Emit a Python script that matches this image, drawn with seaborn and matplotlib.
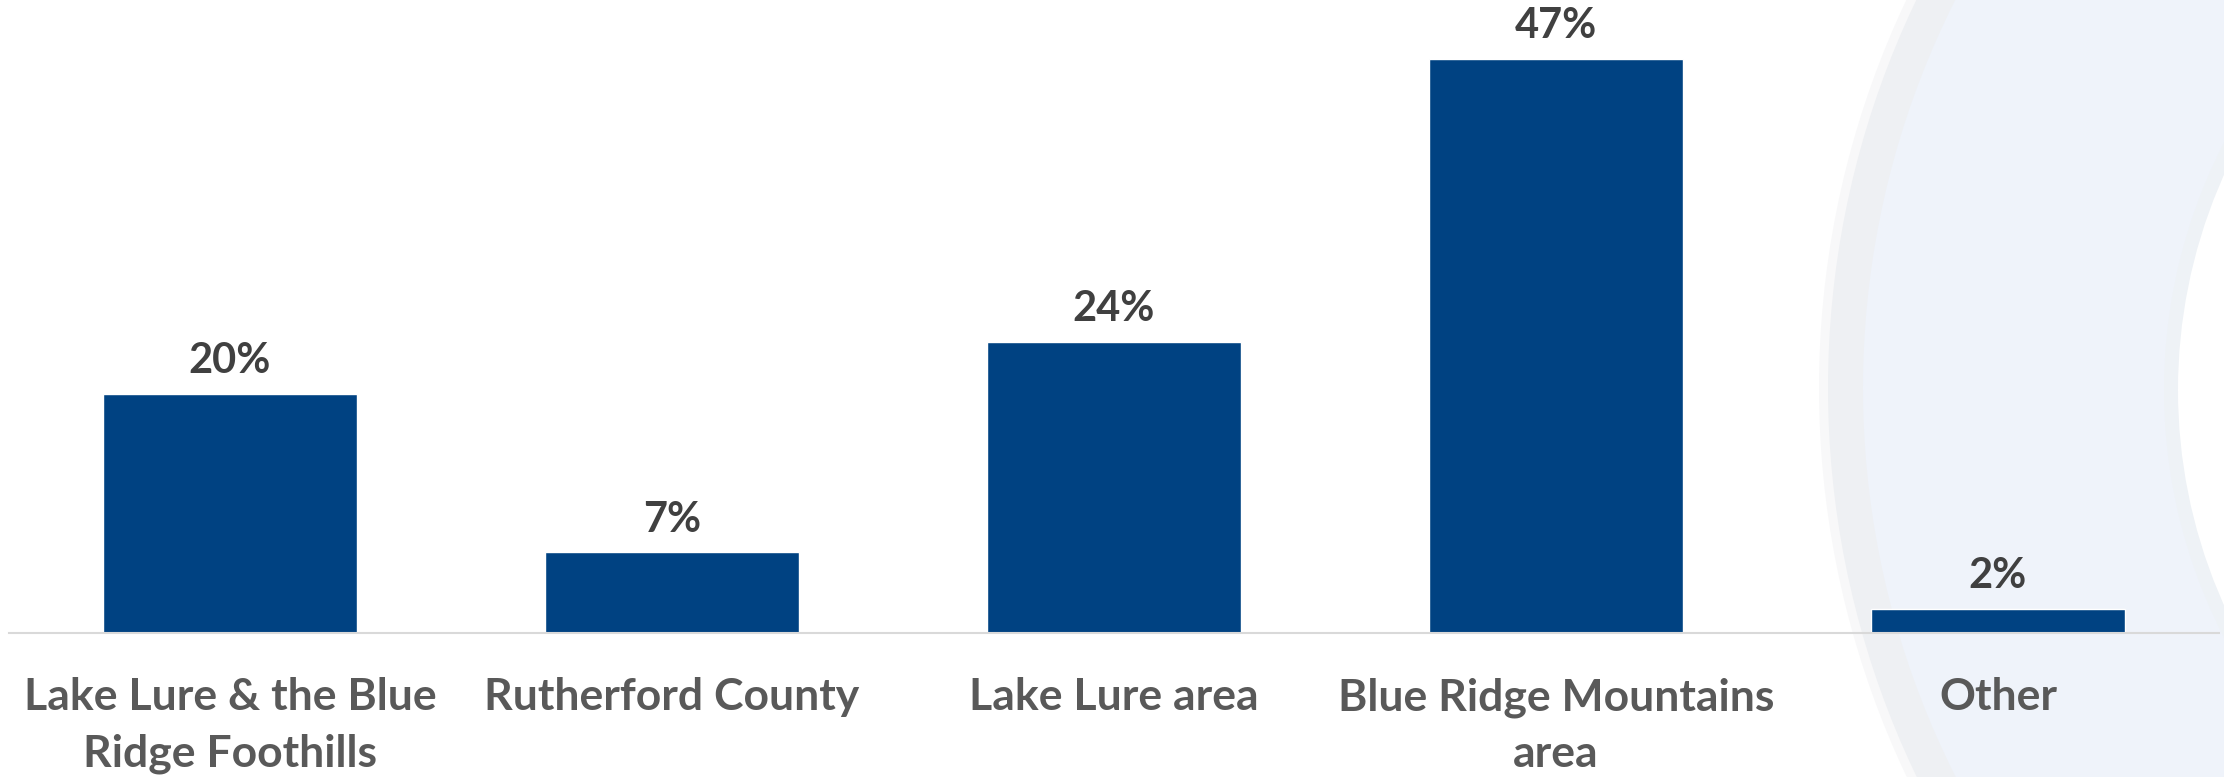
import matplotlib
matplotlib.use("Agg")
import matplotlib.pyplot as plt
import seaborn as sns
import pandas as pd
from matplotlib.patches import Circle

categories = ["Lake Lure & the Blue\nRidge Foothills", "Rutherford County",
              "Lake Lure area", "Blue Ridge Mountains\narea", "Other"]
values = [19.6, 6.6, 23.8, 47.0, 2.0]
value_labels = ["20%", "7%", "24%", "47%", "2%"]

BAR = "#004282"
VAL_TXT = "#404040"
CAT_TXT = "#595959"

sns.set_theme(style="white")
plt.rcParams["font.family"] = ["Lato", "DejaVu Sans"]

W, H = 2224, 777
fig = plt.figure(figsize=(W / 100, H / 100), dpi=100, facecolor="white")

# background decorative arcs (pixel coordinate axes)
bg = fig.add_axes([0, 0, 1, 1], zorder=-1)
bg.set_xlim(0, W)
bg.set_ylim(H, 0)
bg.axis("off")
for cx, cy, r, col in [
    (2725, 388, 906, "#F8F8F9"),
    (2725, 388, 897, "#EEF0F3"),
    (2725, 388, 862, "#EFF3FA"),
    (2704, 390, 540, "#EEF2F6"),
    (2704, 390, 526, "#FFFFFF"),
]:
    bg.add_patch(Circle((cx, cy), r, facecolor=col, edgecolor="none"))

ax = fig.add_axes([9 / W, (H - 633) / H, 2210 / W, 633 / H])
ax.set_facecolor("none")
df = pd.DataFrame({"cat": categories, "val": values})
sns.barplot(data=df, x="cat", y="val", color=BAR, saturation=1, width=0.575, ax=ax)

ax.set_xlim(-0.5, 4.5)
ax.set_ylim(0, 633 / 12.213)
ax.set_xlabel("")
ax.set_ylabel("")
ax.set_yticks([])
for s in ["top", "right", "left"]:
    ax.spines[s].set_visible(False)
ax.spines["bottom"].set_color("#D9D9D9")
ax.spines["bottom"].set_linewidth(1.5)
ax.tick_params(axis="x", length=0, pad=32)
for t in ax.get_xticklabels():
    t.set_fontsize(32)
    t.set_fontweight("bold")
    t.set_color(CAT_TXT)
    t.set_linespacing(1.5)

for i, (v, lab) in enumerate(zip(values, value_labels)):
    ax.annotate(lab, (i, v), xytext=(0, 15), textcoords="offset points",
                ha="center", va="baseline", fontsize=30, fontweight="bold",
                color=VAL_TXT)

fig.savefig("out.png", dpi=100, facecolor="white")
